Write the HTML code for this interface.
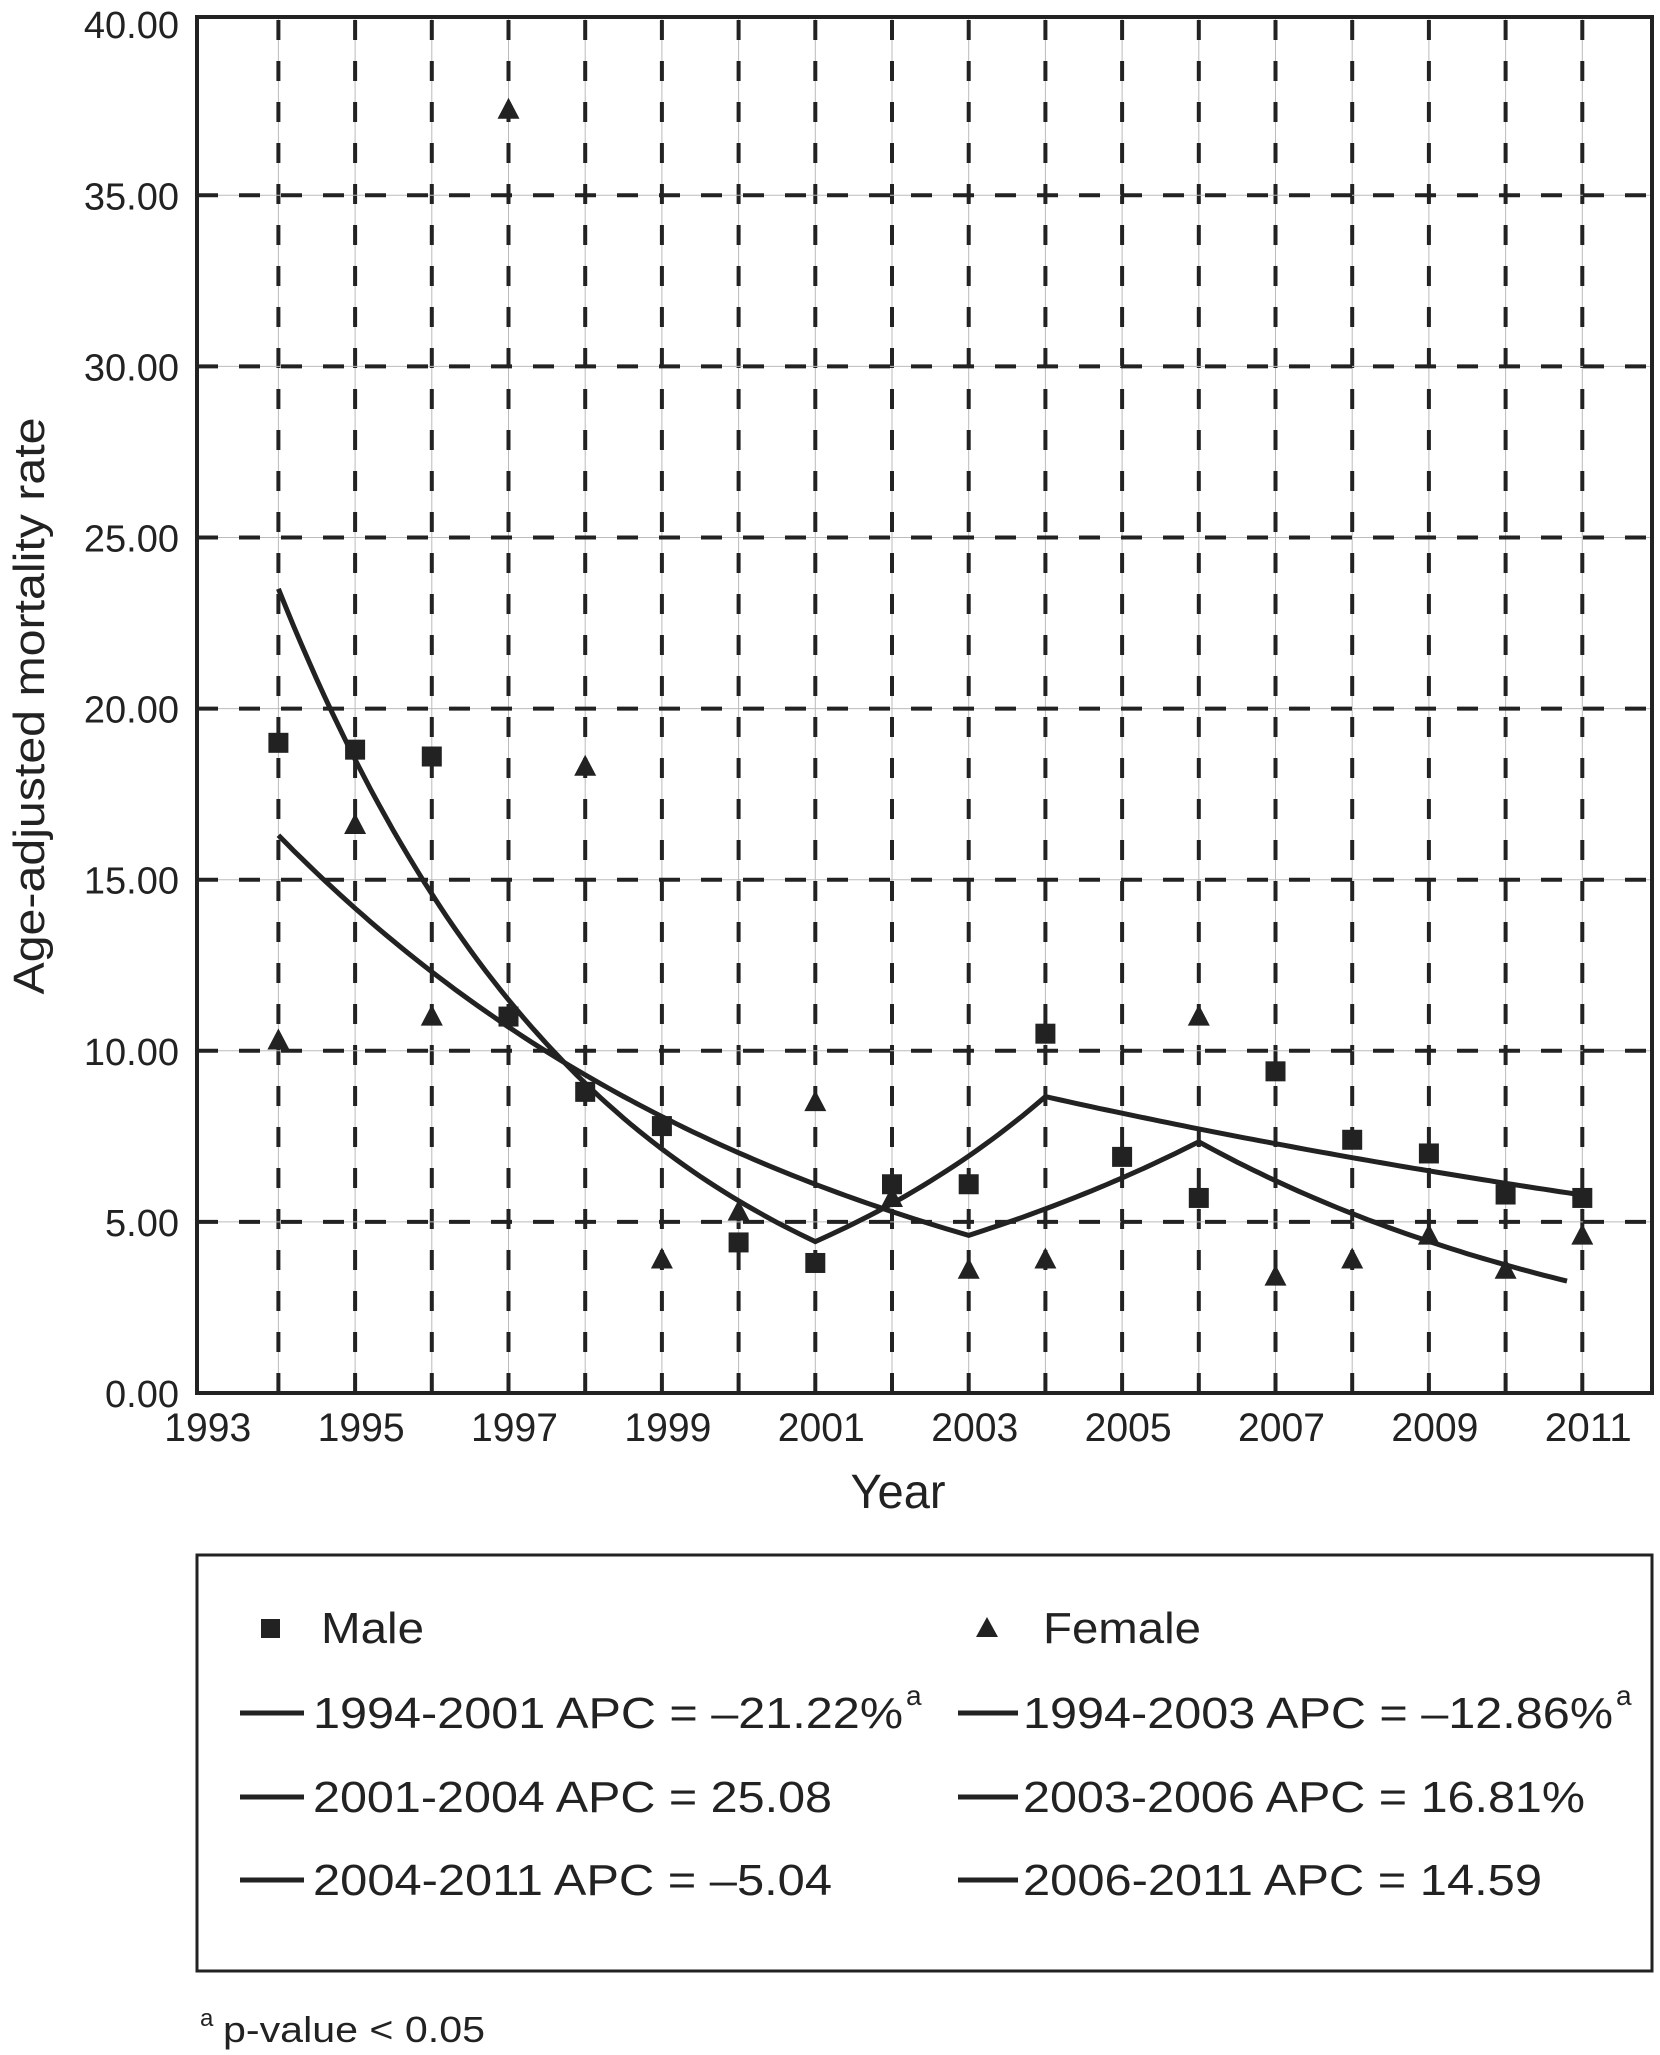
<!DOCTYPE html>
<html><head><meta charset="utf-8"><style>
html,body{margin:0;padding:0;background:#fff;}
svg{display:block;font-family:"Liberation Sans",Arial,sans-serif;}
</style></head><body>
<svg id="chart" width="1660" height="2055" viewBox="0 0 1660 2055">
<g id="grid"></g>
<g id="curves"></g>
<g id="marks"></g>
<rect x="197" y="17" width="1455" height="1376" fill="none" stroke="#222" stroke-width="4"/>
<g id="ylabels" font-size="38" fill="#222" text-anchor="end"></g>
<g id="xlabels" font-size="40" fill="#222" text-anchor="middle"></g>
<text x="898" y="1508" font-size="48" text-anchor="middle" fill="#222" textLength="95" lengthAdjust="spacingAndGlyphs">Year</text>
<text transform="translate(44,706) rotate(-90)" font-size="44" text-anchor="middle" fill="#222" textLength="577" lengthAdjust="spacingAndGlyphs">Age-adjusted mortality rate</text>

<g>
<rect x="197" y="1555" width="1455" height="416" fill="none" stroke="#222" stroke-width="3"/>
<g font-size="44" fill="#222" lengthAdjust="spacingAndGlyphs">
<rect x="261" y="1619" width="19" height="19" fill="#222"/>
<text x="321" y="1643" textLength="103" lengthAdjust="spacingAndGlyphs">Male</text>
<polygon points="987,1617 998,1637 976,1637" fill="#222"/>
<text x="1043" y="1643" textLength="158" lengthAdjust="spacingAndGlyphs">Female</text>
<g stroke="#222" stroke-width="5">
<line x1="240" y1="1713" x2="304" y2="1713"/><line x1="958" y1="1713" x2="1018" y2="1713"/>
<line x1="240" y1="1797" x2="304" y2="1797"/><line x1="958" y1="1797" x2="1018" y2="1797"/>
<line x1="240" y1="1880" x2="304" y2="1880"/><line x1="958" y1="1880" x2="1018" y2="1880"/>
</g>
<text x="313" y="1728" textLength="590" lengthAdjust="spacingAndGlyphs">1994-2001 APC = –21.22%</text>
<text x="906" y="1705" font-size="28">a</text>
<text x="1023" y="1728" textLength="590" lengthAdjust="spacingAndGlyphs">1994-2003 APC = –12.86%</text>
<text x="1616" y="1705" font-size="28">a</text>
<text x="313" y="1812" textLength="519" lengthAdjust="spacingAndGlyphs">2001-2004 APC = 25.08</text>
<text x="1023" y="1812" textLength="562" lengthAdjust="spacingAndGlyphs">2003-2006 APC = 16.81%</text>
<text x="313" y="1895" textLength="519" lengthAdjust="spacingAndGlyphs">2004-2011 APC = –5.04</text>
<text x="1023" y="1895" textLength="519" lengthAdjust="spacingAndGlyphs">2006-2011 APC = 14.59</text>
</g>
</g>
<text x="200" y="2026" font-size="24" fill="#222">a</text>
<text x="223" y="2042" font-size="36" fill="#222" textLength="262" lengthAdjust="spacingAndGlyphs">p-value &lt; 0.05</text>
</svg>
<script>
const years = [1994,1995,1996,1997,1998,1999,2000,2001,2002,2003,2004,2005,2006,2007,2008,2009,2010,2011];
const maleValues = [19.0,18.8,18.6,11.0,8.8,7.8,4.4,3.8,6.1,6.1,10.5,6.9,5.7,9.4,7.4,7.0,5.8,5.7];
const femaleYears = [1994,1995,1996,1997,1998,1999,2000,2001,2002,2003,2004,2006,2007,2008,2009,2010,2011];
const femaleValues = [10.3,16.6,11.0,37.5,18.3,3.9,5.3,8.5,5.7,3.6,3.9,11.0,3.4,3.9,4.6,3.6,4.6];
const maleSegStart = [1994,2001,2004];
const maleSegEnd = [2001,2004,2011];
const maleSegAPC = [-21.22,25.08,-5.6];
const maleStartValue = 23.5;
const femaleSegStart = [1994,2003,2006];
const femaleSegEnd = [2003,2006,2010.8];
const femaleSegAPC = [-13.1,16.81,-15.5];
const femaleStartValue = 16.3;
const yTicks = [0,5,10,15,20,25,30,35,40];
const yTickLabels = ["0.00","5.00","10.00","15.00","20.00","25.00","30.00","35.00","40.00"];
const xTicks = [1993,1995,1997,1999,2001,2003,2005,2007,2009,2011];

const NS = "http://www.w3.org/2000/svg";
const X = yr => 201.7 + (yr - 1993) * 76.7;
const Y = v => 1393 - v * 34.22;
function mk(tag, attrs, parent){const e=document.createElementNS(NS,tag);for(const k in attrs)e.setAttribute(k,attrs[k]);parent.appendChild(e);return e;}

const grid = document.getElementById('grid');
for (let yr = 1994; yr <= 2011; yr++) {
  const x = X(yr);
  const g1 = mk('line',{x1:x,y1:17,x2:x,y2:1393,stroke:'#bbb','stroke-width':1},grid);
  
  
  const g2 = mk('line',{x1:x,y1:20,x2:x,y2:1393,stroke:'#222','stroke-width':4,'stroke-dasharray':'20 21'},grid);
  
  
}
yTicks.forEach((v,i)=>{
  const y = Y(v);
  if (v>0 && v<40) {
    const g1 = mk('line',{x1:197,y1:y,x2:1652,y2:y,stroke:'#bbb','stroke-width':1},grid);
    
    
    const g2 = mk('line',{x1:197,y1:y,x2:1652,y2:y,stroke:'#222','stroke-width':4,'stroke-dasharray':'21 21'},grid);
    
    
  }
  const t = mk('text',{x:179,y:y+14},document.getElementById('ylabels'));
  t.textContent = yTickLabels[i];
  
  
});
xTicks.forEach(yr=>{
  const t = mk('text',{x:X(yr)+6,y:1441,textLength:87,lengthAdjust:'spacingAndGlyphs'},document.getElementById('xlabels'));
  t.textContent = yr;
  
  
});

function curve(starts, ends, apcs, v0){
  let pts=[], v=v0;
  starts.forEach((s,i)=>{
    const e=ends[i], r=1+apcs[i]/100;
    for(let t=s;t<=e+1e-9;t+=0.1){pts.push([X(t),Y(v*Math.pow(r,t-s))]);}
    v=v*Math.pow(r,e-s);
  });
  return 'M'+pts.map(p=>p[0].toFixed(1)+','+p[1].toFixed(1)).join('L');
}
const cg = document.getElementById('curves');
const c1 = mk('path',{d:curve(maleSegStart,maleSegEnd,maleSegAPC,maleStartValue),fill:'none',stroke:'#222','stroke-width':5},cg);


const c2 = mk('path',{d:curve(femaleSegStart,femaleSegEnd,femaleSegAPC,femaleStartValue),fill:'none',stroke:'#222','stroke-width':5},cg);



const mg = document.getElementById('marks');
years.forEach((yr,i)=>{
  const x=X(yr), y=Y(maleValues[i]);
  const r = mk('rect',{x:x-10,y:y-10,width:20,height:20,fill:'#222'},mg);
  
  
});
femaleYears.forEach((yr,i)=>{
  const x=X(yr), y=Y(femaleValues[i]);
  const p = mk('polygon',{points:`${x},${y-12} ${x+11},${y+9} ${x-11},${y+9}`,fill:'#222'},mg);
  
  
});
</script>
</body></html>
